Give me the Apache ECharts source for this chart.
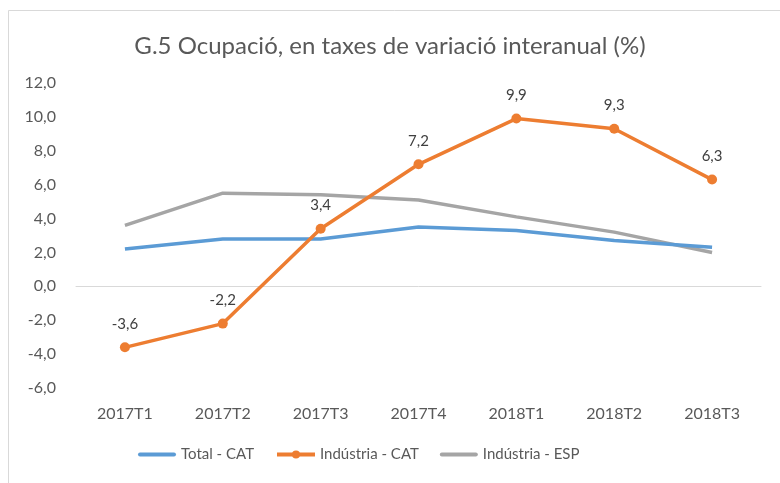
<!DOCTYPE html>
<html>
<head>
<meta charset="utf-8">
<script src="https://cdn.jsdelivr.net/npm/echarts@6/dist/echarts.min.js"></script>
<style>
  html, body { margin: 0; padding: 0; background: #fff; }
  #chart { width: 780px; height: 483px; }
</style>
</head>
<body>
<div id="chart"></div>
<script>
  var categories = ['2017T1', '2017T2', '2017T3', '2017T4', '2018T1', '2018T2', '2018T3']
  var totalCat = [2.2, 2.8, 2.8, 3.5, 3.3, 2.7, 2.3]
  var industriaCat = [-3.6, -2.2, 3.4, 7.2, 9.9, 9.3, 6.3]
  var industriaEsp = [3.6, 5.5, 5.4, 5.1, 4.1, 3.2, 2.0]

  var fontFam = 'Lato, "Open Sans", sans-serif'
  var textColor = '#595959'
  // plain bar icon for the legend lines without markers
  var barIcon = 'path://M2,0 L36,0 A2,2 0 0 1 36,4 L2,4 A2,2 0 0 1 2,0 Z'

  function comma(v, digits) {
    return v.toFixed(digits).replace('.', ',')
  }

  var myChart = echarts.init(document.getElementById('chart'))

  myChart.setOption({
    animation: false,
    backgroundColor: '#fff',
    textStyle: { fontFamily: fontFam, color: textColor },
    graphic: [{
      type: 'rect',
      shape: { x: 8.5, y: 10.5, width: 900, height: 600 },
      style: { fill: 'none', stroke: '#d9d9d9', lineWidth: 1 },
      silent: true
    }],
    title: {
      text: 'G.5 Ocupació, en taxes de variació interanual (%)',
      left: 'center',
      top: 29,
      textStyle: { fontFamily: fontFam, fontSize: 24, fontWeight: 'normal', color: textColor }
    },
    grid: { left: 76, right: 19, top: 83, bottom: 95 },
    legend: {
      bottom: 16,
      left: 133,
      itemWidth: 38,
      itemHeight: 10,
      itemGap: 21,
      lineStyle: { width: 4 },
      textStyle: { fontFamily: fontFam, fontSize: 15, color: textColor },
      data: [
        { name: 'Total - CAT', icon: barIcon },
        { name: 'Indústria - CAT' },
        { name: 'Indústria - ESP', icon: barIcon }
      ]
    },
    xAxis: {
      type: 'category',
      data: categories,
      axisLine: { onZero: true, lineStyle: { color: '#d9d9d9', width: 1 } },
      axisTick: { show: false },
      axisLabel: { fontFamily: fontFam, fontSize: 16, color: textColor, margin: 18 }
    },
    yAxis: {
      type: 'value',
      min: -6,
      max: 12,
      interval: 2,
      splitLine: { show: false },
      axisLine: { show: false },
      axisTick: { show: false },
      axisLabel: {
        fontFamily: fontFam, fontSize: 16, color: textColor, margin: 20,
        formatter: function (v) { return comma(v, 1) }
      }
    },
    series: [
      {
        name: 'Total - CAT',
        type: 'line',
        data: totalCat,
        symbol: 'none',
        lineStyle: { color: '#5B9BD5', width: 3.5 },
        itemStyle: { color: '#5B9BD5' }
      },
      {
        name: 'Indústria - CAT',
        type: 'line',
        data: industriaCat,
        symbol: 'circle',
        symbolSize: 10,
        lineStyle: { color: '#ED7D31', width: 3.5 },
        itemStyle: { color: '#ED7D31' },
        label: {
          show: true,
          position: 'top',
          distance: 11,
          fontFamily: fontFam,
          fontSize: 15,
          color: '#404040',
          formatter: function (p) { return comma(p.value, 1) }
        },
        z: 3
      },
      {
        name: 'Indústria - ESP',
        type: 'line',
        data: industriaEsp,
        symbol: 'none',
        lineStyle: { color: '#A5A5A5', width: 3.5 },
        itemStyle: { color: '#A5A5A5' },
        z: 1
      }
    ]
  })
</script>
</body>
</html>
